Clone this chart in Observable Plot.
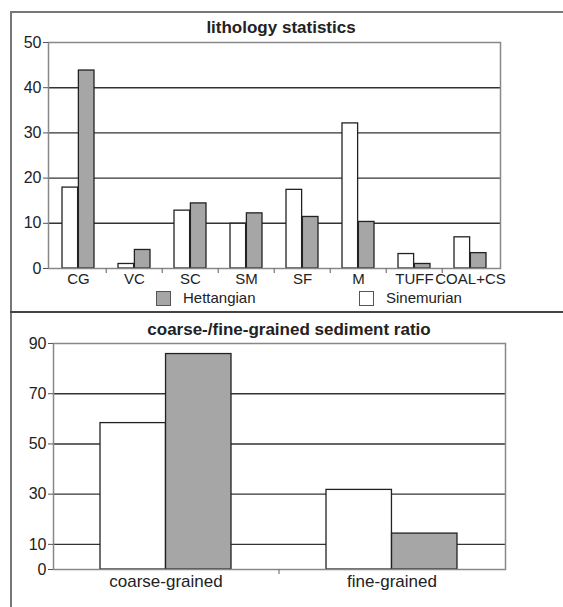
<!DOCTYPE html>
<html><head><meta charset="utf-8">
<script src="https://cdn.jsdelivr.net/npm/d3@7"></script>
<script src="https://cdn.jsdelivr.net/npm/@observablehq/plot@0.6"></script>
<style>
body{margin:0;background:#fff;font-family:"Liberation Sans",Arial,sans-serif;color:#222;}
#wrap{position:relative;width:563px;height:607px;overflow:hidden;background:#fff;}
.abs{position:absolute;}
#outer{left:10px;top:11px;width:600px;height:700px;border-left:2px solid #777;border-top:2px solid #777;}
#divider{left:10px;top:311px;width:600px;height:0;border-top:2px solid #444;}
.title{width:400px;text-align:center;font-weight:bold;font-size:17px;line-height:17px;white-space:nowrap;}
.leg{font-size:15px;line-height:15px;white-space:nowrap;}
.sw{width:13px;height:13px;border:1px solid #555;}
#c1 g[aria-label="y-axis tick label"] text, #c2 g[aria-label="y-axis tick label"] text{font-size:16px;}
#c1 g[aria-label="x-axis tick label"] text{font-size:15px;}
#c2 g[aria-label="x-axis tick label"] text{font-size:17px;}
</style></head><body>
<div id="wrap">
  <div id="outer" class="abs"></div>
  <div id="divider" class="abs"></div>
  <div id="t1" class="abs title" style="left:81px;top:19px;">lithology statistics</div>
  <div id="c1" class="abs"></div>
  <div id="legend"></div>
  <div id="t2" class="abs title" style="left:89px;top:321px;">coarse-/fine-grained sediment ratio</div>
  <div id="c2" class="abs"></div>
</div>
<script>
const categories = ["CG","VC","SC","SM","SF","M","TUFF","COAL+CS"];
const sinemurian = [17.9, 1.0, 12.8, 9.9, 17.4, 32.1, 3.2, 6.9];
const hettangian = [43.8, 4.1, 14.4, 12.2, 11.4, 10.3, 1.0, 3.4];
const lithTicks = [0, 10, 20, 30, 40, 50];

const ratioCategories = ["coarse-grained", "fine-grained"];
const ratioSinemurian = [58.3, 31.7];
const ratioHettangian = [85.8, 14.3];
const ratioTicks = [0, 10, 30, 50, 70, 90];

const seriesNames = ["Hettangian", "Sinemurian"];
const seriesFill = {Hettangian: "#a6a6a6", Sinemurian: "#ffffff"};

const FONT = '"Liberation Sans", Arial, sans-serif';

function chart({cats, sin, het, ticks, width, height, mt, mb, ml, mr}) {
  const pi = 0.42, po = 0.21;
  const innerW = width - ml - mr;
  const step = innerW / (cats.length - pi + 2 * po);
  const half = step * (1 - pi) / 2;
  const rows = cats.map((c, i) => ({cat: c, sin: sin[i], het: het[i]}));
  const maxT = ticks[ticks.length - 1];
  return Plot.plot({
    width, height, marginTop: mt, marginBottom: mb, marginLeft: ml, marginRight: mr,
    style: {fontFamily: FONT, background: "transparent", color: "#222", overflow: "visible"},
    x: {type: "band", domain: cats, paddingInner: pi, paddingOuter: po, label: null},
    y: {domain: [0, maxT], label: null},
    marks: [
      Plot.ruleY(ticks.filter(t => t > 0 && t < maxT), {stroke: "#333", strokeWidth: 1.4}),
      Plot.barY(rows, {x: "cat", y: "sin", fill: seriesFill.Sinemurian, stroke: "#222", strokeWidth: 1.3, insetLeft: 0, insetRight: half}),
      Plot.barY(rows, {x: "cat", y: "het", fill: seriesFill.Hettangian, stroke: "#222", strokeWidth: 1.3, insetLeft: half, insetRight: 0}),
      Plot.frame({stroke: "#888", strokeWidth: 1.5}),
      Plot.ruleX(cats.slice(1), {x: d => d, y1: 0, y2: 0, insetBottom: -5, dx: -step / 2, stroke: "#777", strokeWidth: 1.2}),
      Plot.axisY({ticks, tickSize: 5, tickPadding: 2, stroke: "#555", tickFormat: d => String(d)}),
      Plot.axisX({tickSize: 0, tickPadding: 5})
    ]
  });
}

const c1 = chart({cats: categories, sin: sinemurian, het: hettangian, ticks: lithTicks,
  width: 563, height: 265, mt: 12, mb: 27, ml: 48, mr: 63});
const c2 = chart({cats: ratioCategories, sin: ratioSinemurian, het: ratioHettangian, ticks: ratioTicks,
  width: 563, height: 262, mt: 7, mb: 29, ml: 53, mr: 58});

const h1 = document.getElementById("c1");
h1.style.left = "0px"; h1.style.top = "30px"; h1.appendChild(c1);
const h2 = document.getElementById("c2");
h2.style.left = "0px"; h2.style.top = "336px"; h2.appendChild(c2);

// legend
const leg = document.getElementById("legend");
const legPos = {Hettangian: 156, Sinemurian: 359};
seriesNames.forEach(name => {
  const sw = document.createElement("div");
  sw.className = "abs sw";
  sw.style.left = legPos[name] + "px";
  sw.style.top = "291px";
  sw.style.background = seriesFill[name];
  leg.appendChild(sw);
  const t = document.createElement("div");
  t.className = "abs leg";
  t.style.left = (legPos[name] + 27) + "px";
  t.style.top = "290px";
  t.textContent = name;
  leg.appendChild(t);
});
</script>
</body></html>
